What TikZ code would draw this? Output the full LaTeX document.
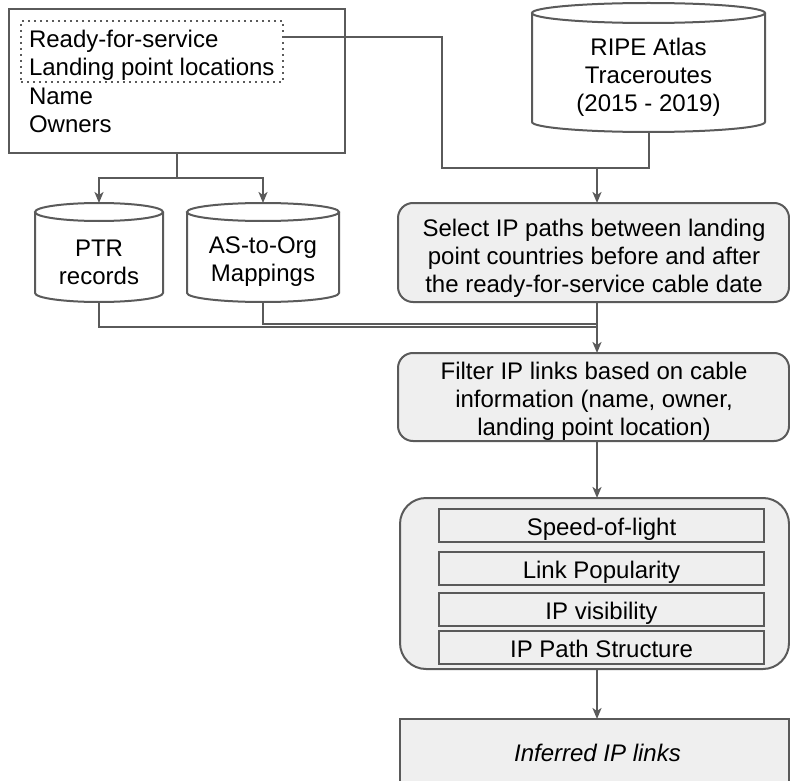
\documentclass[tikz,border=0pt]{standalone}
\usepackage{fontspec}
\setmainfont{Liberation Sans}
\usetikzlibrary{arrows.meta,calc}

\definecolor{edge}{HTML}{5A5A5A}
\definecolor{panel}{HTML}{EFEFEF}

% database "can": side walls, lower rim and the full upper ellipse
\newcommand{\drawcan}[3]{%
  \draw[wire,fill=white] ($(#1.north west)+(0,#3)$) -- ($(#1.south west)+(0,-#3)$)
    arc[start angle=180,end angle=360,x radius=#2pt,y radius=#3pt]
    -- ($(#1.north east)+(0,#3)$);
  \draw[wire,fill=white] ($(#1.north)+(0,#3)$) ellipse[x radius=#2pt,y radius=#3pt];
}

\begin{document}
\begin{tikzpicture}[x=1pt,y=-1pt,
  every node/.style={font=\fontsize{24}{27.8}\selectfont, inner sep=0pt, outer sep=0pt},
  wire/.style={draw=edge, line width=2pt},
  flow/.style={wire, -{Stealth[length=11pt,width=9pt,inset=3pt]}},
  frame/.style={draw=edge, line width=2pt, fill=white},
  stage/.style={draw=edge, line width=2pt, fill=panel, rounded corners=15pt},
  check/.style={draw=edge, line width=2pt, fill=panel, minimum width=325pt, minimum height=33pt,
                text height=20pt, text depth=0pt},
  canbox/.style={minimum height=99pt},
  txt/.style={align=center}
]
\useasboundingbox (0,0) rectangle (790,781);

% cable information source
\node[frame, minimum width=336pt, minimum height=144pt] (src) at (177,81) {};
\node[draw=edge, line width=1.6pt, dash pattern=on 1.6pt off 4.4pt,
      minimum width=262pt, minimum height=61pt] (rfs) at (152,51.5) {};
\node[anchor=base west] (l1) at (29,48) {Ready-for-service};
\node[anchor=base west] (l2) at (29,76) {Landing point locations};
\node[anchor=base west] (l3) at (29,104.5) {Name};
\node[anchor=base west] (l4) at (29,132.5) {Owners};

% data sets
\node[minimum width=233pt, minimum height=129pt] (ripe) at (648.5,67.5) {};
\drawcan{ripe}{116.5}{10}
\node[txt] (ripetext) at (648.5,77.5) {RIPE Atlas\\Traceroutes\\(2015 - 2019)};

\node[canbox, minimum width=128pt] (ptr) at (99,252.5) {};
\drawcan{ptr}{64}{9}
\node[txt] (ptrtext) at (99,262) {PTR\\records};

\node[canbox, minimum width=152pt] (asorg) at (263,252.5) {};
\drawcan{asorg}{76}{9}
\node[txt] (asorgtext) at (263,262) {AS-to-Org\\Mappings};

% processing stages
\node[stage, minimum width=391pt, minimum height=99pt] (select) at (593.5,252.5) {};
\node[txt] (selecttext) at (594,258.5) {Select IP paths between landing\\point countries before and after\\the ready-for-service cable date};

\node[stage, minimum width=391pt, minimum height=88pt] (filter) at (593.5,397) {};
\node[txt] (filtertext) at (594,401) {Filter IP links based on cable\\information (name, owner,\\landing point location)};

\node[stage, rounded corners=26pt, minimum width=389pt, minimum height=171pt] (checks) at (594.5,583.5) {};
\node[check] (c1) at (601.5,525.5) {Speed-of-light};
\node[check] (c2) at (601.5,568.5) {Link Popularity};
\node[check] (c3) at (601.5,609) {IP visibility};
\node[check] (c4) at (601.5,647.5) {IP Path Structure};

\node[draw=edge, line width=2pt, fill=panel, minimum width=389pt, minimum height=90pt] (result) at (594.5,764) {};
\node (resulttext) at (597.5,753) {\itshape Inferred IP links};

% connectors
\coordinate (merge) at (597,168);
\coordinate (bend) at (442,168);
\coordinate (rfsout) at ([yshift=14.5pt]rfs.east);
\draw[wire] (rfsout) -| (bend) -- (merge);
\draw[wire] (ripe.south) |- (merge);
\draw[flow] (merge) -- (merge |- select.north);

\coordinate (split) at (177,178);
\draw[wire] (src.south) -- (split);
\draw[flow] (split) -| (ptr.north);
\draw[flow] (split) -| (asorg.north);

\coordinate (join) at (597,325.5);
\draw[wire] (ptr.south) |- ([yshift=-1.5pt]join);
\draw[wire] (asorg.south) |- ([yshift=1.5pt]join);
\draw[flow] (merge |- select.south) -- (merge |- filter.north);
\draw[flow] (merge |- filter.south) -- (merge |- checks.north);
\draw[flow] (merge |- checks.south) -- (merge |- result.north);
\end{tikzpicture}
\end{document}
